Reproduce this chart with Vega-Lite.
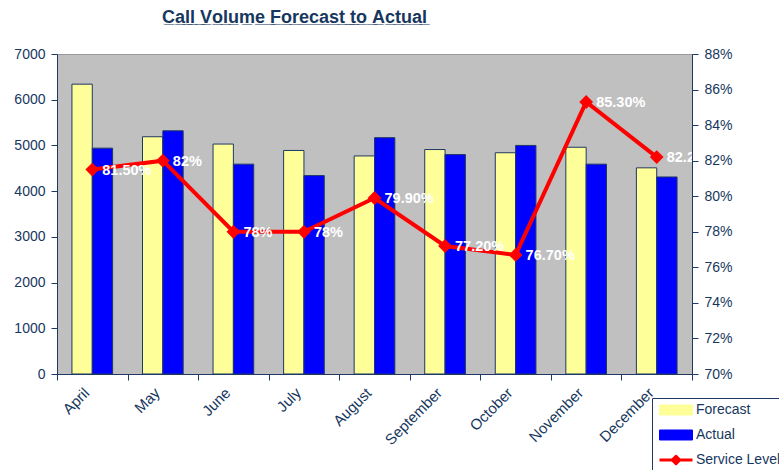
{
  "$schema": "https://vega.github.io/schema/vega-lite/v6.json",
  "width": 635,
  "height": 320,
  "autosize": {"type": "none"},
  "padding": {"left": 57, "top": 54, "right": 87, "bottom": 96},
  "background": "white",
  "config": {
    "font": "Liberation Sans",
    "view": {"fill": "#C0C0C0", "stroke": "#9A9A9A", "strokeWidth": 1},
    "axis": {
      "domainColor": "#1F3864",
      "tickColor": "#1F3864",
      "labelColor": "#17375E",
      "labelFont": "Liberation Sans",
      "labelFontSize": 14,
      "grid": false,
      "title": null
    },
    "legend": {
      "title": null,
      "orient": "none",
      "legendX": 595,
      "legendY": 344,
      "padding": 5,
      "strokeColor": "#1F3864",
      "fillColor": "white",
      "symbolSize": 100,
      "symbolOffset": 12,
      "labelOffset": 13,
      "rowPadding": 11,
      "labelFont": "Liberation Sans",
      "labelFontSize": 14,
      "labelColor": "#17375E"
    }
  },
  "title": {
    "text": "C̲a̲l̲l̲ ̲V̲o̲l̲u̲m̲e̲ ̲F̲o̲r̲e̲c̲a̲s̲t̲ ̲t̲o̲ ̲A̲c̲t̲u̲a̲l̲",
    "font": "Liberation Sans",
    "fontSize": 18,
    "fontWeight": "bold",
    "color": "#17375E",
    "anchor": "start",
    "frame": "group",
    "dx": 105,
    "offset": 20
  },
  "datasets": {
    "volume": [
      {"month": "April", "series": "Forecast", "calls": 6340},
      {"month": "April", "series": "Actual", "calls": 4940},
      {"month": "May", "series": "Forecast", "calls": 5190},
      {"month": "May", "series": "Actual", "calls": 5320},
      {"month": "June", "series": "Forecast", "calls": 5030},
      {"month": "June", "series": "Actual", "calls": 4590},
      {"month": "July", "series": "Forecast", "calls": 4890},
      {"month": "July", "series": "Actual", "calls": 4340},
      {"month": "August", "series": "Forecast", "calls": 4770},
      {"month": "August", "series": "Actual", "calls": 5170},
      {"month": "September", "series": "Forecast", "calls": 4910},
      {"month": "September", "series": "Actual", "calls": 4800},
      {"month": "October", "series": "Forecast", "calls": 4840},
      {"month": "October", "series": "Actual", "calls": 5000},
      {"month": "November", "series": "Forecast", "calls": 4960},
      {"month": "November", "series": "Actual", "calls": 4590},
      {"month": "December", "series": "Forecast", "calls": 4510},
      {"month": "December", "series": "Actual", "calls": 4310}
    ],
    "service": [
      {"month": "April", "level": 0.815, "label": "81.50%"},
      {"month": "May", "level": 0.82, "label": "82%"},
      {"month": "June", "level": 0.78, "label": "78%"},
      {"month": "July", "level": 0.78, "label": "78%"},
      {"month": "August", "level": 0.799, "label": "79.90%"},
      {"month": "September", "level": 0.772, "label": "77.20%"},
      {"month": "October", "level": 0.767, "label": "76.70%"},
      {"month": "November", "level": 0.853, "label": "85.30%"},
      {"month": "December", "level": 0.822, "label": "82.20%"}
    ]
  },
  "encoding": {
    "x": {
      "field": "month",
      "type": "nominal",
      "sort": null,
      "scale": {"paddingInner": 0, "paddingOuter": 0},
      "axis": {
        "labelAngle": -45,
        "labelAlign": "right",
        "labelBaseline": "middle",
        "labelFontSize": 15,
        "labelOffset": -6,
        "tickBand": "extent",
        "tickSize": 6,
        "labelPadding": 10
      }
    }
  },
  "layer": [
    {
      "data": {"name": "volume"},
      "mark": {"type": "bar", "stroke": "#1F3864", "strokeWidth": 1},
      "encoding": {
        "xOffset": {
          "field": "series",
          "type": "nominal",
          "sort": ["Forecast", "Actual"],
          "scale": {"paddingInner": 0, "paddingOuter": 0.735}
        },
        "y": {
          "field": "calls",
          "type": "quantitative",
          "scale": {"domain": [0, 7000], "nice": false},
          "axis": {
            "values": [0, 1000, 2000, 3000, 4000, 5000, 6000, 7000],
            "format": "d",
            "tickSize": 6,
            "labelPadding": 6
          }
        },
        "color": {
          "field": "series",
          "type": "nominal",
          "scale": {
            "domain": ["Forecast", "Actual", "Service Level"],
            "range": ["#FFFF99", "#0000FF", "#FF0000"]
          },
          "legend": {
            "encode": {
              "symbols": {
                "update": {
                  "shape": {"signal": "datum.value === 'Service Level' ? 'M-3.3,0H3.3M0,-0.75L0.75,0L0,0.75L-0.75,0Z' : 'M-3.3,-1H3.3V1H-3.3Z'"},
                  "fill": {"signal": "datum.value === 'Forecast' ? '#FFFF99' : datum.value === 'Actual' ? '#0000FF' : '#FF0000'"},
                  "stroke": {"signal": "datum.value === 'Service Level' ? '#FF0000' : '#1F3864'"},
                  "strokeWidth": {"signal": "datum.value === 'Service Level' ? 3 : 1"},
                  "strokeJoin": {"value": "round"}
                }
              }
            }
          }
        }
      }
    },
    {
      "data": {"name": "service"},
      "encoding": {
        "y": {
          "field": "level",
          "type": "quantitative",
          "scale": {"domain": [0.7, 0.88], "nice": false, "zero": false},
          "axis": {
            "orient": "right",
            "format": ".0%",
            "values": [0.7, 0.72, 0.74, 0.76, 0.78, 0.8, 0.82, 0.84, 0.86, 0.88],
            "tickSize": 6,
            "labelPadding": 6
          }
        }
      },
      "layer": [
        {
          "mark": {"type": "line", "strokeWidth": 4},
          "encoding": {
            "color": {
              "datum": "Service Level",
              "legend": {
                "encode": {
                  "symbols": {
                    "update": {
                      "shape": {"signal": "datum.value === 'Service Level' ? 'M-3.3,0H3.3M0,-0.75L0.75,0L0,0.75L-0.75,0Z' : 'M-3.3,-1H3.3V1H-3.3Z'"},
                      "fill": {"signal": "datum.value === 'Forecast' ? '#FFFF99' : datum.value === 'Actual' ? '#0000FF' : '#FF0000'"},
                      "stroke": {"signal": "datum.value === 'Service Level' ? '#FF0000' : '#1F3864'"},
                      "strokeWidth": {"signal": "datum.value === 'Service Level' ? 3 : 1"},
                      "strokeJoin": {"value": "round"}
                    }
                  }
                }
              }
            }
          }
        },
        {
          "mark": {"type": "point", "shape": "diamond", "filled": true, "size": 190, "opacity": 1, "color": "#FF0000"},
          "encoding": {}
        },
        {
          "mark": {
            "type": "text",
            "align": "left",
            "baseline": "middle",
            "dx": 10,
            "dy": 1,
            "fontSize": 14.5,
            "fontWeight": "bold",
            "color": "white",
            "clip": true
          },
          "encoding": {"text": {"field": "label"}}
        }
      ]
    }
  ],
  "resolve": {"scale": {"y": "independent"}}
}
